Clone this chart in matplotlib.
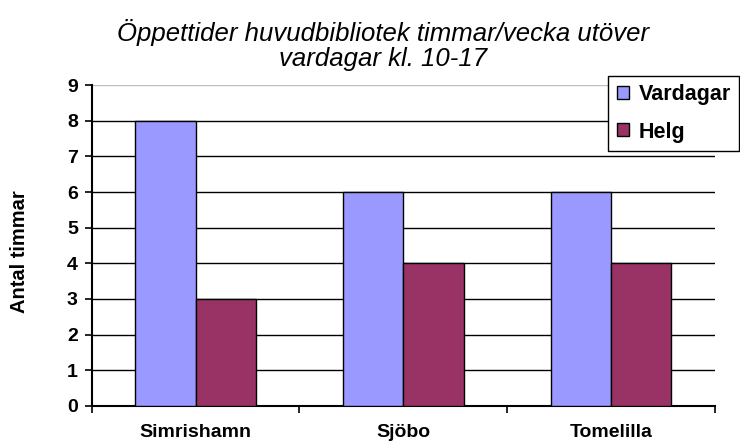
import matplotlib
matplotlib.use("Agg")
import matplotlib.pyplot as plt
import numpy as np

plt.rcParams["font.family"] = ["Liberation Sans", "DejaVu Sans"]

kommuner = ["Simrishamn", "Sjöbo", "Tomelilla"]
vardagar = [8, 6, 6]
helg = [3, 4, 4]
y_ticks = list(range(0, 10))

fig = plt.figure(figsize=(7.4, 4.46), dpi=100)
ax = fig.add_axes([0.124, 0.09, 0.842, 0.719])

x = np.arange(len(kommuner))
bredd = 0.29
ax.bar(x - bredd / 2, vardagar, bredd, color="#9999FF", edgecolor="black",
       linewidth=1, label="Vardagar", zorder=3)
ax.bar(x + bredd / 2, helg, bredd, color="#993366", edgecolor="black",
       linewidth=1, label="Helg", zorder=3)

ax.set_xlim(-0.5, 2.5)
ax.set_ylim(0, 9)
ax.set_yticks(y_ticks)
ax.set_yticklabels([str(v) for v in y_ticks], fontsize=14, fontweight="bold")
ax.set_xticks(x)
ax.set_xticklabels(kommuner, fontsize=14, fontweight="bold")
ax.set_xticks(np.arange(-0.5, 3, 1), minor=True)
ax.tick_params(axis="x", which="major", length=0, pad=13)
ax.tick_params(axis="x", which="minor", length=5, width=1.2, direction="out")
ax.tick_params(axis="y", length=5, width=1.2, direction="out", pad=5)

ax.yaxis.grid(True, color="black", linewidth=1)
ax.get_ygridlines()[-1].set_color("#C0C0C0")
ax.set_axisbelow(True)
for s in ["top", "right"]:
    ax.spines[s].set_visible(False)
ax.spines["left"].set_linewidth(1.5)
ax.spines["bottom"].set_linewidth(1.5)

ax.set_ylabel("Antal timmar", fontsize=14.5, fontweight="bold")
ax.yaxis.set_label_coords(-0.1, 0.48)

fig.text(0.517, 0.9, "Öppettider huvudbibliotek timmar/vecka utöver\nvardagar kl. 10-17",
         ha="center", va="center", fontsize=18.5, fontstyle="italic", linespacing=1.05)

fig.legend(loc="upper left", bbox_to_anchor=(0.822, 0.83),
           prop={"weight": "bold", "size": 15.5}, frameon=True, fancybox=False,
           edgecolor="black", framealpha=1, handlelength=0.55, handleheight=0.55,
           labelspacing=0.75, borderpad=0.4, handletextpad=0.45, borderaxespad=0)

fig.savefig("out.png", dpi=100)
